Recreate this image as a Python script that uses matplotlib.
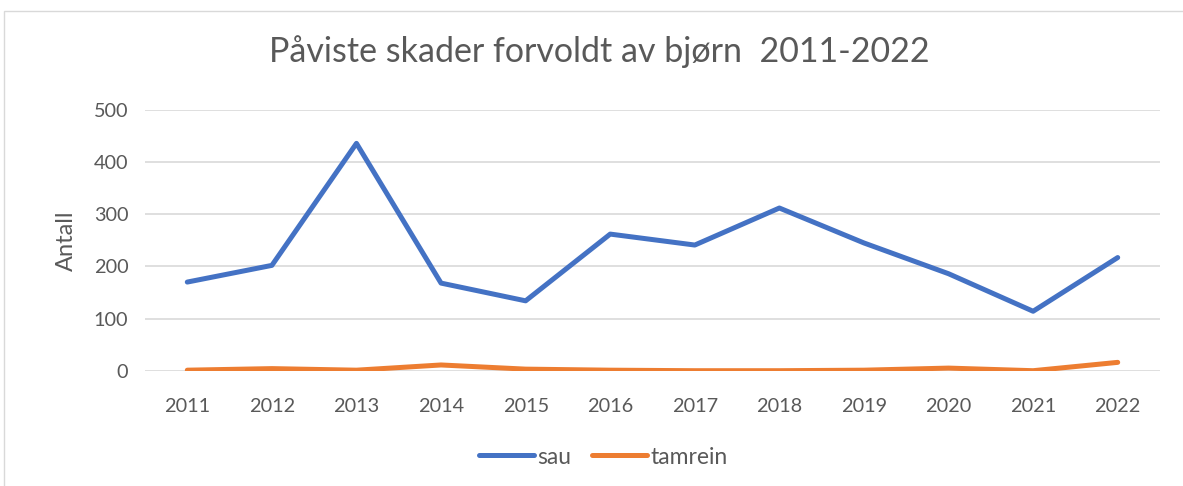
import matplotlib
matplotlib.use("Agg")
import matplotlib.pyplot as plt
from matplotlib.patches import Rectangle

years = ["2011", "2012", "2013", "2014", "2015", "2016", "2017", "2018", "2019", "2020", "2021", "2022"]
sau = [170, 202, 436, 168, 134, 262, 241, 312, 245, 186, 114, 217]
tamrein = [1, 4, 1, 11, 3, 1, 0, 0, 1, 5, 0, 16]
yticks = [0, 100, 200, 300, 400, 500]

plt.rcParams['font.family'] = ['Lato', 'DejaVu Sans']
W, H = 1183, 486
fig = plt.figure(figsize=(W / 100, H / 100), dpi=100)
fig.patch.set_facecolor("white")

# chart border
fig.patches.append(Rectangle((4 / W, -0.05), 1.1, 1 - 11 / H + 0.05, transform=fig.transFigure,
                             fill=False, edgecolor="#D9D9D9", linewidth=1.0))

ax = fig.add_axes([145 / W, 1 - 370.7 / H, (1160 - 145) / W, (370.7 - 110) / H])
x = list(range(len(years)))
ax.plot(x, sau, color="#4472C4", linewidth=3.6, solid_capstyle="round", solid_joinstyle="round", label="sau", zorder=3)
ax.plot(x, tamrein, color="#ED7D31", linewidth=3.6, solid_capstyle="round", solid_joinstyle="round", label="tamrein", zorder=3)

ax.set_xlim(-0.5, len(years) - 0.5)
ax.set_ylim(0, 500)
ax.set_yticks(yticks)
ax.set_xticks(x)
ax.set_xticklabels(years)
ax.grid(axis="y", color="#D9D9D9", linewidth=1.2)
ax.set_axisbelow(True)
for s in ax.spines.values():
    s.set_visible(False)
ax.tick_params(axis="both", length=0, colors="#595959", labelsize=14.3)
ax.tick_params(axis="x", pad=20)
ax.tick_params(axis="y", pad=12)
ax.set_ylabel("Antall", color="#595959", fontsize=17, labelpad=12)

fig.text(599 / W, 1 - 52 / H, "Påviste skader forvoldt av bjørn  2011-2022", ha="center", va="center",
         fontsize=24.5, color="#595959")

leg = fig.legend(loc="center", bbox_to_anchor=(603 / W, 1 - 457 / H), ncol=2, frameon=False,
                 fontsize=16.5, handlelength=2.4, handletextpad=0.15, columnspacing=0.9)
for t in leg.get_texts():
    t.set_color("#595959")

fig.savefig("out.png", dpi=100, facecolor="white")
